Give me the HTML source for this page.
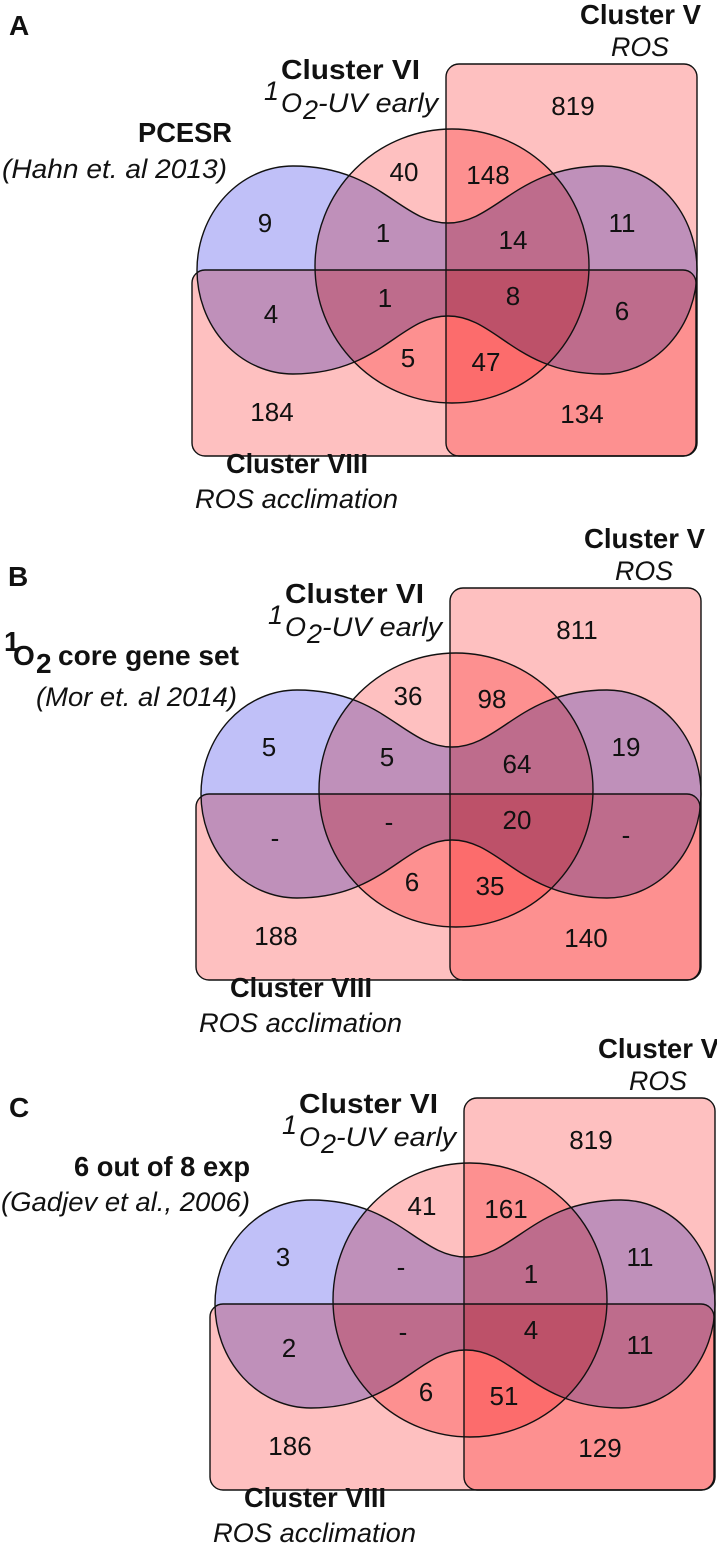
<!DOCTYPE html>
<html><head><meta charset="utf-8"><style>
html,body{margin:0;padding:0;background:#fff;}
svg{display:block;font-family:"Liberation Sans",Arial,sans-serif;background:#fff;isolation:isolate;}
.n{font-size:26px;text-anchor:middle;fill:#111;}
.b{font-weight:bold;font-size:28px;fill:#111;}
.i{font-style:italic;font-size:27px;fill:#111;}
.pk{fill:#fec0c0;mix-blend-mode:multiply;}
.bl{fill:#c0c0f8;mix-blend-mode:multiply;}
.st{fill:none;stroke:#111;stroke-width:1.4;}
</style></head><body>
<svg width="717" height="1546" viewBox="0 0 717 1546" xmlns="http://www.w3.org/2000/svg">
<rect x="0" y="0" width="717" height="1546" fill="#fff"/>
<defs>
<g id="shapes">
<rect class="pk" x="446" y="64" width="251" height="392" rx="13"/>
<rect class="pk" x="192" y="270" width="504" height="186" rx="13"/>
<circle class="pk" cx="452" cy="266" r="137"/>
<path class="bl" d="M293,166 C380,166 400,223 448,223 C496,223 516,166 603,166 A94,104 0 0 1 603,374 C516,374 496,316 448,316 C400,316 380,374 293,374 A96,104 0 0 1 293,166 Z"/>
<rect class="st" x="446" y="64" width="251" height="392" rx="13"/>
<rect class="st" x="192" y="270" width="504" height="186" rx="13"/>
<circle class="st" cx="452" cy="266" r="137"/>
<path class="st" d="M293,166 C380,166 400,223 448,223 C496,223 516,166 603,166 A94,104 0 0 1 603,374 C516,374 496,316 448,316 C400,316 380,374 293,374 A96,104 0 0 1 293,166 Z"/>
</g>
<g id="labels">
<text class="b" x="580" y="24" textLength="121" lengthAdjust="spacingAndGlyphs">Cluster V</text>
<text class="i" x="611" y="56" textLength="58" lengthAdjust="spacingAndGlyphs">ROS</text>
<text class="b" x="281" y="79" textLength="139" lengthAdjust="spacingAndGlyphs">Cluster VI</text>
<text class="i" x="264" y="100" font-size="18">1</text>
<text class="i" x="281" y="112" font-size="28">O</text>
<text class="i" x="303" y="119" font-size="19">2</text>
<text class="i" x="318" y="112" textLength="120" lengthAdjust="spacingAndGlyphs">-UV early</text>
<text class="b" x="226" y="473" textLength="142" lengthAdjust="spacingAndGlyphs">Cluster VIII</text>
<text class="i" x="195" y="508" textLength="203" lengthAdjust="spacingAndGlyphs">ROS acclimation</text>
</g>
</defs>

<!-- Panel A -->
<g>
<use href="#shapes"/>
<use href="#labels"/>
<text class="n" x="573" y="115">819</text>
<text class="n" x="404" y="181">40</text>
<text class="n" x="488" y="184">148</text>
<text class="n" x="265" y="232">9</text>
<text class="n" x="383" y="242">1</text>
<text class="n" x="513" y="249">14</text>
<text class="n" x="622" y="232">11</text>
<text class="n" x="385" y="307">1</text>
<text class="n" x="513" y="305">8</text>
<text class="n" x="271" y="323">4</text>
<text class="n" x="622" y="320">6</text>
<text class="n" x="408" y="367">5</text>
<text class="n" x="486" y="371">47</text>
<text class="n" x="272" y="421">184</text>
<text class="n" x="582" y="423">134</text>
</g>
<text class="b" x="9" y="35" font-size="30">A</text>
<text class="b" x="138" y="142" textLength="94" lengthAdjust="spacingAndGlyphs">PCESR</text>
<text class="i" x="2" y="178" textLength="225" lengthAdjust="spacingAndGlyphs">(Hahn et. al 2013)</text>

<!-- Panel B -->
<g transform="translate(4,524)">
<use href="#shapes"/>
<use href="#labels"/>
<text class="n" x="573" y="115">811</text>
<text class="n" x="404" y="181">36</text>
<text class="n" x="488" y="184">98</text>
<text class="n" x="265" y="232">5</text>
<text class="n" x="383" y="242">5</text>
<text class="n" x="513" y="249">64</text>
<text class="n" x="622" y="232">19</text>
<text class="n" x="385" y="307">-</text>
<text class="n" x="513" y="305">20</text>
<text class="n" x="271" y="323">-</text>
<text class="n" x="622" y="320">-</text>
<text class="n" x="408" y="367">6</text>
<text class="n" x="486" y="371">35</text>
<text class="n" x="272" y="421">188</text>
<text class="n" x="582" y="423">140</text>
</g>
<text class="b" x="8" y="586" font-size="30">B</text>
<text class="b" x="4" y="651" font-size="17">1</text>
<text class="b" x="13" y="665" font-size="29">O</text>
<text class="b" x="36" y="673" font-size="19">2</text>
<text class="b" x="58" y="665" textLength="181" lengthAdjust="spacingAndGlyphs">core gene set</text>
<text class="i" x="36" y="706" textLength="201" lengthAdjust="spacingAndGlyphs">(Mor et. al 2014)</text>

<!-- Panel C -->
<g transform="translate(18,1034)">
<use href="#shapes"/>
<use href="#labels"/>
<text class="n" x="573" y="115">819</text>
<text class="n" x="404" y="181">41</text>
<text class="n" x="488" y="184">161</text>
<text class="n" x="265" y="232">3</text>
<text class="n" x="383" y="242">-</text>
<text class="n" x="513" y="249">1</text>
<text class="n" x="622" y="232">11</text>
<text class="n" x="385" y="307">-</text>
<text class="n" x="513" y="305">4</text>
<text class="n" x="271" y="323">2</text>
<text class="n" x="622" y="320">11</text>
<text class="n" x="408" y="367">6</text>
<text class="n" x="486" y="371">51</text>
<text class="n" x="272" y="421">186</text>
<text class="n" x="582" y="423">129</text>
</g>
<text class="b" x="9" y="1117" font-size="30">C</text>
<text class="b" x="74" y="1176" textLength="176" lengthAdjust="spacingAndGlyphs">6 out of 8 exp</text>
<text class="i" x="1" y="1211" textLength="249" lengthAdjust="spacingAndGlyphs">(Gadjev et al., 2006)</text>
</svg>
</body></html>
